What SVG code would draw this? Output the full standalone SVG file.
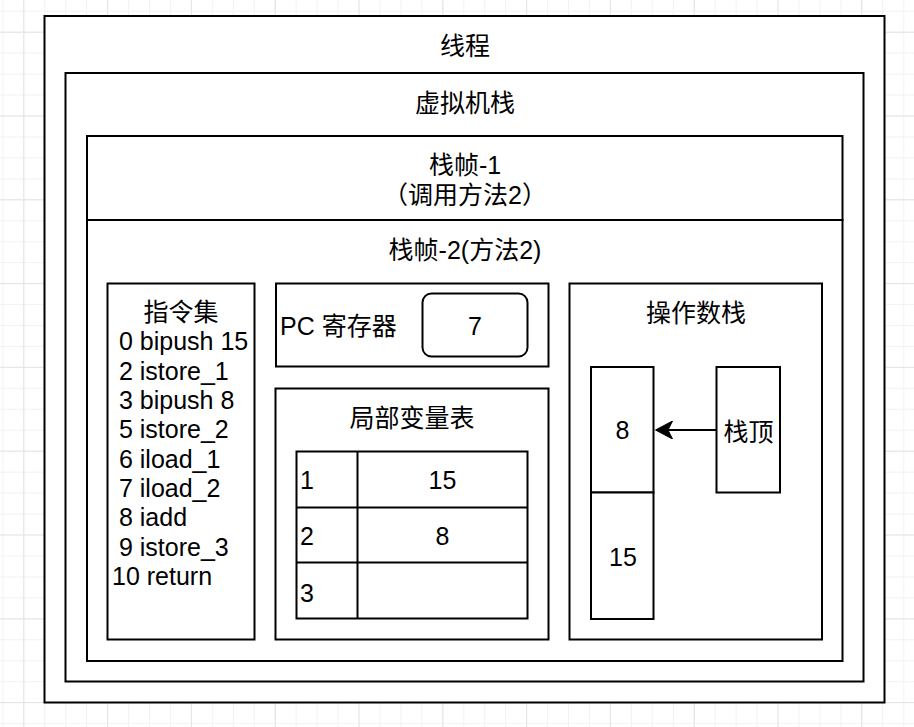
<svg xmlns="http://www.w3.org/2000/svg" width="914" height="727" viewBox="0 0 914 727">
<style>
.box{fill:#ffffff;stroke:#000000;stroke-width:2}
.ln{fill:none;stroke:#000000;stroke-width:2}
.t{font-family:"Liberation Sans","Noto Sans CJK SC",sans-serif;font-size:25px;fill:#000000}
.c{text-anchor:middle}
</style>
<defs>
<pattern id="minor" x="2.35" y="10.75" width="20.95" height="20.95" patternUnits="userSpaceOnUse">
<path d="M0.5,0 V20.95 M0,0.5 H20.95" fill="none" stroke="#f2f2f2" stroke-width="1"/>
</pattern>
<pattern id="major" x="23.3" y="31.7" width="83.8" height="83.8" patternUnits="userSpaceOnUse">
<path d="M0.5,0 V83.8 M0,0.5 H83.8" fill="none" stroke="#e4e4e4" stroke-width="1"/>
</pattern>
<marker id="arrow" markerUnits="userSpaceOnUse" markerWidth="18" markerHeight="18" viewBox="0 0 18 18" refX="4.5" refY="9" orient="auto">
<path d="M0,0 L17,9 L0,18 L4.5,9 Z" fill="#000000" stroke="#000000" stroke-width="1"/>
</marker>
</defs>
<rect width="914" height="727" fill="#ffffff"/>
<rect width="914" height="727" fill="url(#minor)"/>
<rect width="914" height="727" fill="url(#major)"/>

<g id="thread">
<rect class="box" x="44.5" y="16" width="840" height="686.5"/>
<text class="t c" x="465" y="55">线程</text>
</g>
<g id="jvm-stack">
<rect class="box" x="65.5" y="73" width="798" height="608.5"/>
<text class="t c" x="465" y="112">虚拟机栈</text>
</g>
<g id="frame-1">
<rect class="box" x="87" y="136" width="755.5" height="84"/>
<text class="t c" x="465" y="174">栈帧-1</text>
<text class="t c" x="465" y="204">（调用方法2）</text>
</g>
<g id="frame-2">
<rect class="box" x="87" y="220" width="755.5" height="441"/>
<text class="t c" x="465" y="259">栈帧-2(方法2)</text>
</g>
<g id="instructions">
<rect class="box" x="107.5" y="283.5" width="147" height="356"/>
<text class="t c" x="181" y="321">指令集</text>
<text class="t" x="112" y="350" xml:space="preserve"> 0 bipush 15</text>
<text class="t" x="112" y="379.5" xml:space="preserve"> 2 istore_1</text>
<text class="t" x="112" y="408.8" xml:space="preserve"> 3 bipush 8</text>
<text class="t" x="112" y="438.2" xml:space="preserve"> 5 istore_2</text>
<text class="t" x="112" y="467.6" xml:space="preserve"> 6 iload_1</text>
<text class="t" x="112" y="497" xml:space="preserve"> 7 iload_2</text>
<text class="t" x="112" y="526.4" xml:space="preserve"> 8 iadd</text>
<text class="t" x="112" y="555.8" xml:space="preserve"> 9 istore_3</text>
<text class="t" x="112" y="585.2">10 return</text>
</g>
<g id="pc-register">
<rect class="box" x="276" y="283.5" width="272.5" height="83"/>
<text class="t" x="280" y="335">PC 寄存器</text>
</g>
<g id="pc-value">
<rect class="box" x="422.5" y="293.5" width="105" height="63" rx="9" ry="9"/>
<text class="t c" x="475" y="335">7</text>
</g>
<g id="local-vars">
<rect class="box" x="275.5" y="388.5" width="273" height="251"/>
<text class="t c" x="412" y="427">局部变量表</text>
</g>
<g id="lv-table">
<rect class="box" x="296.5" y="451.5" width="231" height="167"/>
<path class="ln" d="M357.5,451.5 V618.5 M296.5,507.5 H527.5 M296.5,562.5 H527.5"/>
<text class="t" x="300" y="488.5">1</text>
<text class="t c" x="442.5" y="488.5">15</text>
<text class="t" x="300" y="545">2</text>
<text class="t c" x="442.5" y="545">8</text>
<text class="t" x="300" y="601.5">3</text>
</g>
<g id="operand-stack">
<rect class="box" x="569.5" y="283.5" width="252.5" height="356"/>
<text class="t c" x="696" y="322">操作数栈</text>
</g>
<g id="stack-item-8">
<rect class="box" x="591" y="367" width="62.5" height="125.5"/>
<text class="t c" x="622.5" y="439">8</text>
</g>
<g id="stack-item-15">
<rect class="box" x="591" y="492.5" width="62.5" height="126.5"/>
<text class="t c" x="623" y="565.5">15</text>
</g>
<g id="stack-top">
<rect class="box" x="716.5" y="367" width="63.5" height="125.5"/>
<text class="t c" x="748.5" y="440.5">栈顶</text>
</g>
<g id="connectors">
<path class="ln" d="M716.5,430 H668" marker-end="url(#arrow)"/>
</g>
</svg>
